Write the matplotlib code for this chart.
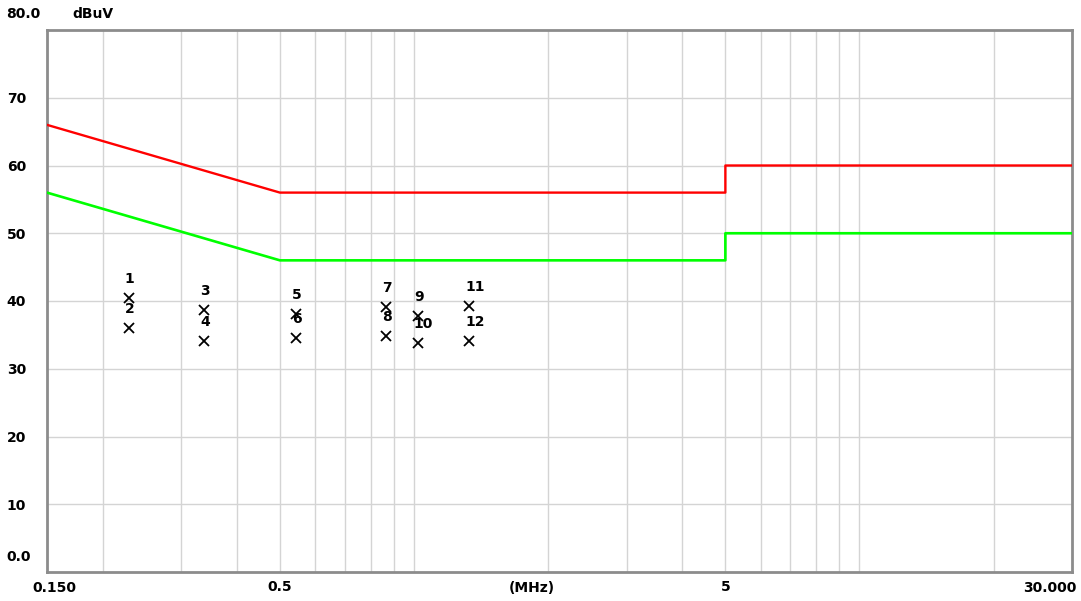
import matplotlib
matplotlib.use("Agg")
import matplotlib.pyplot as plt
import numpy as np

# limit lines (MHz, dBuV)
qp_freq = [0.15, 0.5, 0.5, 5, 5, 30]
qp_level = [66, 56, 56, 56, 60, 60]
av_freq = [0.15, 0.5, 0.5, 5, 5, 30]
av_level = [56, 46, 46, 46, 50, 50]

# measured points
pt_num = ["1", "2", "3", "4", "5", "6", "7", "8", "9", "10", "11", "12"]
pt_freq = [0.229, 0.229, 0.338, 0.338, 0.543, 0.543, 0.866, 0.866, 1.02, 1.02, 1.33, 1.33]
pt_level = [40.4, 36.0, 38.7, 34.1, 38.1, 34.5, 39.1, 34.8, 37.8, 33.8, 39.3, 34.1]

grid_freq = [0.2, 0.3, 0.4, 0.6, 0.7, 0.8, 0.9, 1, 2, 3, 4, 6, 7, 8, 9, 10, 20]

FS = 10
W, H = 1081, 601
fig = plt.figure(figsize=(W / 100, H / 100), dpi=100)
ax = fig.add_axes([47 / W, 1 - 572 / H, (1072 - 47) / W, (572 - 30) / H])

ax.set_xscale("log")
ax.set_xlim(0.15, 30)
ax.set_ylim(0, 80)

# sloped parts are linear in log(f), so sample them densely
def dense(fr, lv):
    xs, ys = [], []
    for i in range(len(fr) - 1):
        if fr[i] != fr[i + 1]:
            seg = np.logspace(np.log10(fr[i]), np.log10(fr[i + 1]), 30)
        else:
            seg = np.array([fr[i], fr[i + 1]])
        t = np.linspace(0, 1, len(seg))
        xs.extend(seg)
        ys.extend(lv[i] + (lv[i + 1] - lv[i]) * t)
    return xs, ys

x, y = dense(qp_freq, qp_level)
ax.plot(x, y, color="#ff0000", lw=1.7, zorder=3)
x, y = dense(av_freq, av_level)
ax.plot(x, y, color="#00ff00", lw=1.9, zorder=3)

ax.plot(pt_freq, pt_level, "x", color="black", ms=7, mew=1.3, zorder=4)
for n, f, l in zip(pt_num, pt_freq, pt_level):
    ax.annotate(n, (f, l), xytext=(-4, 12), textcoords="offset pixels",
                ha="left", va="bottom", fontsize=FS, fontweight="bold")

ax.set_xticks([0.5, 5])
ax.set_xticklabels(["0.5", "5"], fontweight="bold", fontsize=FS)
ax.set_xticks(grid_freq, minor=True)
ax.set_xticklabels([], minor=True)
ax.set_yticks([10, 20, 30, 40, 50, 60, 70])
ax.set_yticklabels(["10", "20", "30", "40", "50", "60", "70"], fontweight="bold", fontsize=FS)
for lbl in ax.get_yticklabels():
    lbl.set_horizontalalignment("left")
ax.tick_params(axis="y", length=0, pad=29)
ax.tick_params(axis="x", which="both", length=0, pad=6)
ax.grid(True, which="both", color="#d4d4d4", lw=1.0)

for s in ax.spines.values():
    s.set_color("#8c8c8c")
    s.set_linewidth(2)

fig.text(6 / W, 1 - 14 / H, "80.0", fontsize=FS, fontweight="bold", va="center")
fig.text(72 / W, 1 - 14 / H, "dBuV", fontsize=FS, fontweight="bold", va="center")
fig.text(6 / W, 1 - 557 / H, "0.0", fontsize=FS, fontweight="bold", va="center")
fig.text(32 / W, 1 - 588 / H, "0.150", fontsize=FS, fontweight="bold", va="center")
fig.text(532 / W, 1 - 588 / H, "(MHz)", fontsize=FS, fontweight="bold", va="center", ha="center")
fig.text(1077 / W, 1 - 588 / H, "30.000", fontsize=FS, fontweight="bold", va="center", ha="right")

fig.savefig("out.png", dpi=100)
